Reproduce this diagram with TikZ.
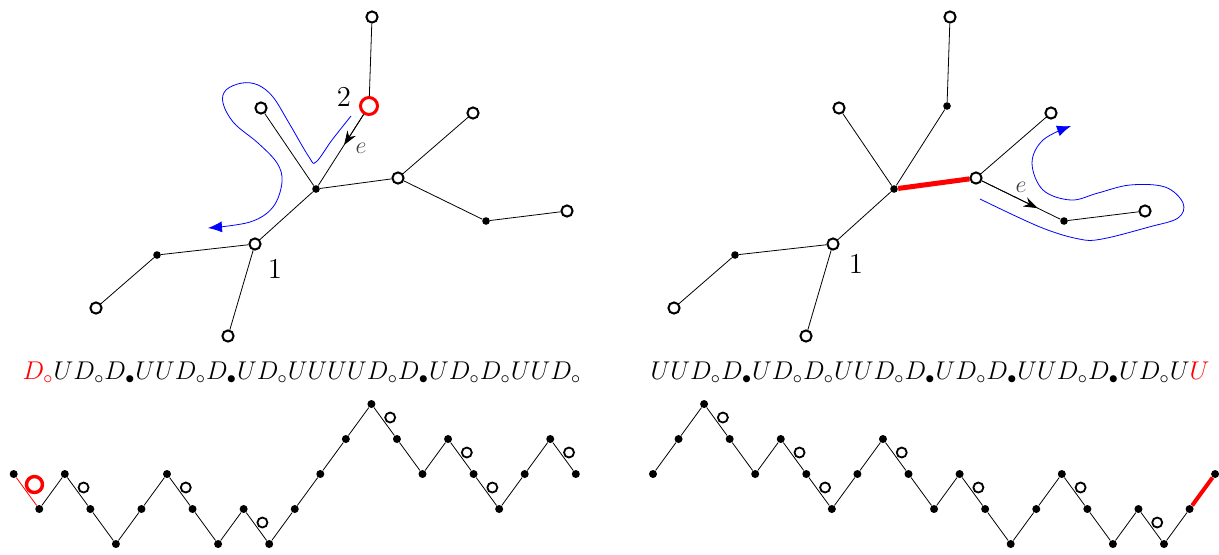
\documentclass[tikz,border=0pt]{standalone}
\usetikzlibrary{arrows.meta}
\usetikzlibrary{calc}
\tikzset{>={Stealth[length=7pt,width=5pt]}}
\tikzset{
  wnode/.style={circle, draw, line width=1pt, fill=white, inner sep=0pt, minimum size=5.6pt},
  bnode/.style={circle, fill, inner sep=0pt, minimum size=3.8pt},
  rnode/.style={circle, draw=red, line width=1.5pt, fill=white, inner sep=0pt, minimum size=8.5pt},
  pdot/.style={circle, fill, inner sep=0pt, minimum size=4pt},
  pcirc/.style={circle, draw, line width=0.9pt, fill=white, inner sep=0pt, minimum size=5pt},
  rcirc/.style={circle, draw=red, line width=1.7pt, fill=white, inner sep=0pt, minimum size=8pt},
  tour/.style={blue, line width=0.4pt, -{Latex[length=7pt, width=5.5pt]}},
  lbl/.style={font=\Large, inner sep=0pt},
  elbl/.style={text=black!75, font=\large, inner sep=0pt},
  word/.style={font=\large}
}
\newcommand{\wordbox}[1]{\scalebox{1.07}{$#1$}}
\begin{document}
\begin{tikzpicture}[x=0.5pt, y=-0.5pt, line width=0.4pt]
  \useasboundingbox (0,0) rectangle (1219,554);
  \pgfmathsetmacro{\dx}{25.55}
  \pgfmathsetmacro{\dy}{35}
  \foreach \tr/\s/\m in {a/0/rnode, b/578/bnode}{
    \begin{scope}[shift={(\s,0)}]
      \node[wnode] (\tr T) at (372,17) {};
      \node[\m] (\tr 2) at (369,106) {};
      \node[wnode] (\tr L) at (261,108) {};
      \node[bnode] (\tr C) at (316,189) {};
      \node[wnode] (\tr R) at (398,178) {};
      \node[wnode] (\tr U) at (473,113) {};
      \node[bnode] (\tr B) at (486,221) {};
      \node[wnode] (\tr E) at (567,211) {};
      \node[wnode] (\tr 1) at (255,244) {};
      \node[bnode] (\tr D) at (157,255) {};
      \node[wnode] (\tr W) at (96,308) {};
      \node[wnode] (\tr S) at (228,336) {};
      \draw (\tr T) -- (\tr 2) -- (\tr C) -- (\tr 1) -- (\tr D) -- (\tr W)
        (\tr L) -- (\tr C) -- (\tr R) -- (\tr U)
        (\tr R) -- (\tr B) -- (\tr E)
        (\tr 1) -- (\tr S);
    \end{scope}
  }
  \draw[red, line width=2.5pt] (bC) -- (bR);
  \draw[->] (a2) -- ($(a2)!0.47!(aC)$);
  \draw[->] (bR) -- ($(bR)!0.7!(bB)$);
  \node[elbl] (ea) at (361,148) {$e$};
  \node[elbl] (eb) at (1021,187) {$e$};
  \node[lbl] (n2) at (344,97) {$2$};
  \node[lbl] (n1a) at (275,269) {$1$};
  \node[lbl] (n1b) at (856,264) {$1$};
  \draw[tour] plot[smooth, tension=0.6] coordinates {(351,116) (332,140) (316,162) (309,157) (289,123) (273,97) (258,85) (242,83) (226,90) (223,103) (234,123) (258,143) (277,163) (282,182) (273,207) (250,222) (208,228)};
  \draw[tour] plot[smooth, tension=0.6] coordinates {(980,199) (1040,227) (1079,239) (1102,239) (1149,227) (1178,218) (1183,203) (1165,187) (1130,185) (1098,193) (1071,200) (1043,190) (1032,163) (1043,140) (1071,126)};
  \node[word] (wa) at (302,373) {\wordbox{\textcolor{red}{D_\circ}UD_\circ D_\bullet UUD_\circ D_\bullet UD_\circ UUUUD_\circ D_\bullet UD_\circ D_\circ UUD_\circ}};
  \node[word] (wb) at (930,373) {\wordbox{UUD_\circ D_\bullet UD_\circ D_\circ UUD_\circ D_\bullet UD_\circ D_\bullet UUD_\circ D_\bullet UD_\circ U\textcolor{red}{U}}};
  \foreach \h [count=\i from 0] in {0,-1,0,-1,-2,-1,0,-1,-2,-1,-2,-1,0,1,2,1,0,1,0,-1,0,1,0}
    \node[pdot] (p\i) at ({13.7+\dx*\i},{474-\dy*\h}) {};
  \draw[red] (p0) -- (p1);
  \foreach \i [remember=\i as \k (initially 1)] in {2,...,22}
    \draw (p\k) -- (p\i);
  \node[rcirc] (pr) at ($(p0)!0.5!(p1)+(8,-7)$) {};
  \foreach \i [evaluate=\i as \j using int(\i+1)] in {2,6,9,14,17,18,21}
    \node[pcirc] (pc\i) at ($(p\i)!0.5!(p\j)+(6,-4)$) {};
  \foreach \h [count=\i from 0] in {0,1,2,1,0,1,0,-1,0,1,0,-1,0,-1,-2,-1,0,-1,-2,-1,-2,-1,0}
    \node[pdot] (q\i) at ({653+\dx*\i},{474-\dy*\h}) {};
  \foreach \i [remember=\i as \k (initially 0)] in {1,...,21}
    \draw (q\k) -- (q\i);
  \draw[red, line width=2pt] (q21) -- (q22);
  \foreach \i [evaluate=\i as \j using int(\i+1)] in {2,5,6,9,12,16,19}
    \node[pcirc] (qc\i) at ($(q\i)!0.5!(q\j)+(6,-4)$) {};
\end{tikzpicture}
\end{document}
